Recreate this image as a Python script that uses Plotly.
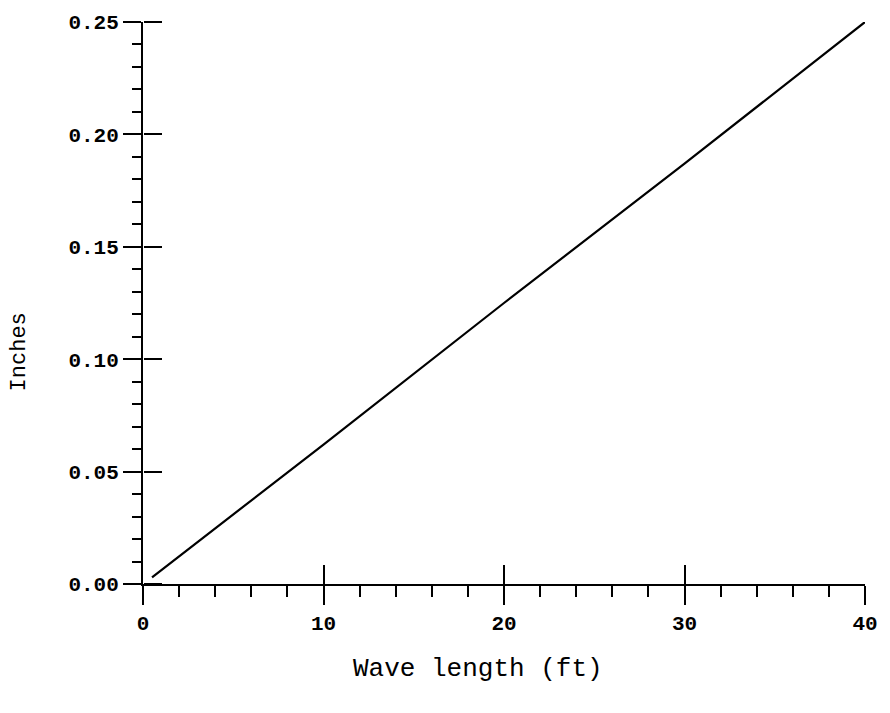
import plotly.graph_objects as go

wave_length_ft = [0.5, 10, 20, 30, 40]
inches = [0.003, 0.062, 0.125, 0.187, 0.25]

x_ticks = [0, 10, 20, 30, 40]
y_ticks = [0.0, 0.05, 0.10, 0.15, 0.20, 0.25]

fig = go.Figure()
fig.add_trace(go.Scatter(x=wave_length_ft, y=inches, mode="lines",
                         line=dict(color="black", width=2.2), showlegend=False,
                         hoverinfo="skip"))
# invisible twin trace so the overlay axes (inward halves of major ticks) get drawn
fig.add_trace(go.Scatter(x=wave_length_ft, y=inches, mode="lines", xaxis="x2", yaxis="y2",
                         line=dict(color="rgba(0,0,0,0)", width=0), showlegend=False,
                         hoverinfo="skip"))

tickfont = dict(family="Liberation Mono", size=21, color="black", weight="bold")

fig.update_layout(
    width=890, height=713,
    margin=dict(l=143, r=17, t=17, b=129),
    plot_bgcolor="white", paper_bgcolor="white",
    xaxis=dict(range=[0, 40], tickvals=x_ticks, ticktext=[str(v) for v in x_ticks],
               ticks="outside", ticklen=19, tickwidth=2, tickcolor="black",
               showline=True, linecolor="black", linewidth=2,
               showgrid=False, zeroline=False, tickfont=tickfont,
               minor=dict(dtick=2, tick0=0, ticks="outside", ticklen=11, tickwidth=2,
                          tickcolor="black", showgrid=False)),
    yaxis=dict(range=[0, 0.25], tickvals=y_ticks, ticktext=[f"{v:.2f}" for v in y_ticks],
               ticks="outside", ticklen=18, tickwidth=2, tickcolor="black",
               showline=True, linecolor="black", linewidth=2,
               showgrid=False, zeroline=False, tickfont=tickfont,
               minor=dict(dtick=0.01, tick0=0, ticks="outside", ticklen=9, tickwidth=2,
                          tickcolor="black", showgrid=False)),
    xaxis2=dict(overlaying="x", anchor="y", side="bottom", range=[0, 40],
                tickvals=x_ticks, ticks="inside", ticklen=19, tickwidth=2, tickcolor="black",
                showticklabels=False, showline=False, showgrid=False, zeroline=False),
    yaxis2=dict(overlaying="y", anchor="free", position=0, side="right", range=[0, 0.25],
                tickvals=y_ticks, ticks="outside", ticklen=18, tickwidth=2, tickcolor="black",
                showticklabels=False, showline=False, showgrid=False, zeroline=False),
    annotations=[
        dict(text="Wave length (ft)", xref="paper", yref="paper",
             x=(482 - 143) / (873 - 143), y=-(670 - 584) / (584 - 17),
             xanchor="center", yanchor="middle", showarrow=False,
             font=dict(family="Liberation Mono", size=26, color="black")),
        dict(text="Inches", xref="paper", yref="paper",
             x=-(143 - 18) / (873 - 143), y=(584 - 350) / (584 - 17),
             xanchor="center", yanchor="middle", showarrow=False, textangle=-90,
             font=dict(family="Liberation Mono", size=22, color="black")),
    ],
)

fig.write_html("out.html")
